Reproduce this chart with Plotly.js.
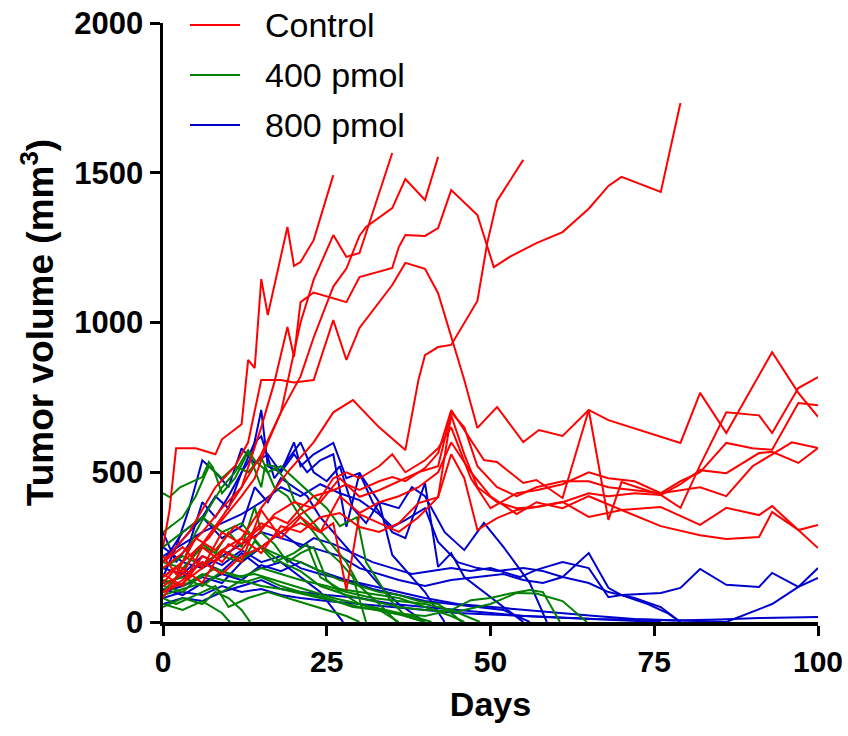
<!DOCTYPE html>
<html>
<head>
<meta charset="utf-8">
<script src="https://cdn.plot.ly/plotly-3.0.1.min.js"></script>
<style>html,body{margin:0;padding:0;background:#fff;}#chart{width:848px;height:736px;}</style>
</head>
<body>
<div id="chart"></div>
<script>
// ---------- DATA ----------
var groupNames = ['Control', '400 pmol', '800 pmol'];
var groupColors = ['#FF0000', '#008000', '#0000CC'];

var controlDays = [
  [0,1,2,5,8,9,12,13,14,15,16,19,20,21,23,26],
  [0,3,5,7,9,12,14,16,18,19,21,23,26,28,30,35],
  [0,3,6,9,12,15,18,21,23,26,28,30,31,35,37,40,42],
  [0,3,6,9,12,15,19,23,26,29,33,37,39,40,42,44,48,49.5,51,55],
  [0,3,6,9,12,15,17,19,20,21,23,26,28,30,35,36,37,40,42,44,48,50.5,53,57,61,65,68,70,73,76,79],
  [0,4,8,11,13,15,18,20,23,26,28,30,35,37,40,42,46,48,51,55,57.4,61,65,68,79,82,86,93,97,100],
  [0,2,5,8,11,14,17,20,23,26,28,30,33,35,37,40,42,44,47,50,54,57,61,65,68,72,76,79,82,86,90,93,96,100],
  [0,2,4,6,8,10,12,14,17,19,21,23,26,28,30,33,35,37,40,42,44,47,49,51,55,57,61,65,68,70,76,79,82,86,91,93,97,100],
  [0,3,6,9,12,15,18,21,24,27,30,33,36,39,42,44,46,48,51,54,57,61,65,68,72,76,79,82,86,90,93,97,100],
  [0,3,6,9,12,15,18,21,24,26,28,30,33,36,39,42,44,46,48,51,54,57,61,65,68,72,76,79,82,86,91,93,97,100],
  [0,3,6,9,12,15,18,21,24,27,30,33,36,39,42,44,46,48,51,54,57,61,65,70,76,82,86,91,93,97,100],
  [0,3,6,9,12,15,18,21,24,27,30,33,36,39,42,44,47,50,54,57,61,65,70,76,82,86,91,93,97,100]
];
var controlVolumes = [
  [250,374,580,580,560,610,660,875,848,1145,1025,1319,1189,1202,1275,1492],
  [120,160,240,280,340,420,480,600,700,800,1000,1142,1292,1219,1232,1566],
  [180,230,300,380,450,560,700,820,950,1120,1180,1290,1319,1382,1479,1409,1553],
  [100,130,180,240,280,380,500,600,700,741,650,574,808,891,918,925,1072,1265,1406,1543],
  [150,200,260,350,450,650,800,985,885,1068,1100,1080,1068,1152,1182,1252,1292,1289,1315,1442,1359,1185,1220,1265,1302,1380,1456,1486,1460,1436,1733],
  [200,300,450,520,600,808,808,800,808,1008,875,982,1125,1199,1179,1098,808,648,718,601,641,621,708,674,598,765,631,901,765,685],
  [220,160,280,240,320,280,360,400,380,480,500,480,520,560,500,540,580,650,480,380,430,440,460,500,480,470,430,440,450,420,520,560,600,581],
  [130,180,150,220,200,260,240,300,350,330,380,420,440,460,441,470,484,470,514,564,708,608,541,534,464,474,414,708,341,467,424,381,524,700,690,631,781,818],
  [200,250,180,300,260,330,300,360,400,480,418,440,470,500,520,700,650,520,450,420,450,470,470,450,440,430,470,500,598,580,575,731,724],
  [100,140,200,160,220,250,300,330,300,330,107,360,330,301,350,417,690,560,451,400,380,384,400,430,420,430,424,460,507,497,564,568,531,581],
  [160,120,250,200,280,230,320,300,350,364,317,301,330,397,417,560,480,307,347,374,384,401,351,374,384,324,381,357,387,307,324],
  [80,180,130,240,200,374,280,350,300,420,364,400,420,450,500,600,500,420,360,400,380,420,374,320,290,277,284,367,307,247]
];

var pmol400Days = [
  [0,1,2.6,6,7,7.6,9,11,13,15,15.6,17,19,20,23,25.5,28,30,33,35.7],
  [0,3,5,7,9,11,13,14,16,18,20,23,25,27,29.6,31,34.7,37,40],
  [0,2,4,6,8,10,12,14,15,17,19,21,23,25,27,30,33,36],
  [0,3,6,9,12,14,17,20,22,24,27,30,33,36,40,44,46],
  [0,3,5,8,11,14,17,20,23,26,30,34,38,41],
  [0,2,5,8,10,13,16,19,22,25,28,30],
  [0,3,6,8,10,12,13.3],
  [0,3,6,9,10.2],
  [0,3,6,9,12,15,18,21,25,29,33,37,40],
  [0,3,6,9,12,15,18,21,24,27,30,33,36,39,42,44,45.6],
  [0,3,6,9,12,15,18,21,25,28,32,36,40,44,48.4],
  [0,3,6,9,12,15,18,22,26,30,35,40,44,47,50,53,56,58,60.6],
  [0,3,6,9,12,15,18,21,24,28,32,36,40,45,50,54,57,61,64.7],
  [0,3,5,7,9,11,13,15,17,19,21,23,25,27,29,31]
];
var pmol400Volumes = [
  [430,417,450,484,534,517,430,480,568,450,524,520,467,407,330,264,200,120,60,0],
  [150,200,300,380,450,500,574,540,500,520,480,420,380,320,350,200,73,20,0],
  [100,150,200,260,230,300,250,384,300,260,200,230,250,140,100,60,40,0],
  [200,180,250,220,200,270,200,230,260,150,110,100,90,80,50,20,0],
  [120,100,140,180,150,160,140,120,100,80,60,40,20,0],
  [80,60,90,120,50,80,100,80,60,40,20,0],
  [50,80,60,100,80,40,0],
  [60,40,70,30,0],
  [140,120,160,140,130,150,120,100,80,50,40,20,0],
  [180,220,190,240,210,250,220,200,170,140,120,100,90,70,60,30,0],
  [130,150,120,170,150,180,160,140,120,100,80,70,60,40,0],
  [90,110,130,100,140,120,110,90,70,50,30,20,40,73,80,95,107,100,0],
  [250,300,350,300,330,250,200,170,120,90,70,50,40,35,60,97,95,70,0],
  [300,350,420,520,480,520,500,550,450,420,350,300,240,200,150,0]
];

var pmol800Days = [
  [0,2,4,6,8,10,12,13.5,15,16,18,20,22,24,26,28,30,33,35,38,40,43],
  [0,2,4,6,8,10,12,14,16,18,20,21,23,26,28,30,32,35,37,40,42,44,46,49,52,55],
  [0,2,4,6,8,10,12,14,15,17,19,21,23,25,27,29,31,33,36,38,40,43,46,49,52,56,58.6],
  [0,3,6,9,12,15,18,21,23,26,29,32,35,38,41,44,47,50,54.5,57,61,65,68,70,76,79,82,86,91,93,97,100],
  [0,3,6,9,12,15,18,21,24,27,30,33,36,40,44,48,52,55,58,61,65,68,70,74,77,79],
  [0,3,6,9,12,15,18,21,25,30,35,40,45,50,55,60,66,72,76],
  [0,3,6,9,12,15,18,21,24,28,32,36,40,45,50,55,60,66,72,80,86,93,97,100],
  [0,3,6,9,12,15,18,21,25,30,35,40,45,50,55,60,66,72,78,85,91,100],
  [0,3,6,9,12,15,18,21,24,27.5],
  [0,3,6,9,12,14,16,18,20,22,24,26,28,30,32,34,36,38,40],
  [0,3,6,9,12,15,18,21,24,27,30,33,35,37,40,42,45,48,51,55,58,61,65,68,72,76,79],
  [0,3,6,9,12,15,18,21,24,28,32,36,40,44,48,52,56]
];
var pmol800Volumes = [
  [200,250,300,350,420,380,500,550,708,520,500,560,500,540,560,318,497,400,224,150,100,0],
  [150,250,380,540,500,450,580,530,560,500,600,520,560,598,480,497,400,300,280,464,184,230,150,100,50,0],
  [300,200,260,400,350,420,500,600,620,480,540,600,500,470,520,380,330,400,380,450,420,300,240,331,250,130,0],
  [100,120,150,130,200,250,300,250,280,260,230,200,180,160,170,180,170,180,150,174,200,180,83,90,97,114,177,124,117,164,117,147],
  [250,200,180,220,260,300,280,260,240,220,180,160,140,120,140,150,160,140,130,150,230,114,90,60,30,0],
  [60,80,70,100,120,140,110,100,90,80,60,50,40,30,20,15,10,5,0],
  [180,160,220,190,240,200,220,180,160,140,120,100,80,60,50,40,30,20,10,5,0,60,117,180],
  [80,100,90,120,100,110,90,80,70,60,50,40,30,25,20,15,10,8,5,8,13,17],
  [130,150,200,170,230,180,200,150,100,0],
  [200,300,350,280,320,450,400,480,450,420,350,300,250,200,150,100,60,30,0],
  [220,260,300,330,360,400,450,420,460,430,407,360,317,340,380,267,200,180,170,180,170,150,130,100,80,50,0],
  [110,90,130,160,140,190,170,200,170,140,110,90,70,60,50,40,0]
];

var xTicks = [0, 25, 50, 75, 100];
var yTicks = [0, 500, 1000, 1500, 2000];

// ---------- BUILD ----------
var traces = [];
function addGroup(daysList, volList, gi) {
  for (var i = 0; i < daysList.length; i++) {
    traces.push({
      x: daysList[i], y: volList[i], type: 'scatter', mode: 'lines',
      name: groupNames[gi], legendgroup: groupNames[gi], showlegend: false,
      line: {color: groupColors[gi], width: 2}, hoverinfo: 'skip'
    });
  }
}
addGroup(pmol800Days, pmol800Volumes, 2);
addGroup(pmol400Days, pmol400Volumes, 1);
addGroup(controlDays, controlVolumes, 0);

var W = 848, H = 736, L = 163, R = 30, T = 23, B = 114;
var pw = W - L - R, ph = H - T - B;
function px(xp) { return (xp - L) / pw; }
function py(yp) { return (H - B - yp) / ph; }

var shapes = [], annotations = [];
var legendRowsY = [25, 75, 125];
for (var g = 0; g < 3; g++) {
  shapes.push({type: 'line', xref: 'paper', yref: 'paper',
    x0: px(190), x1: px(240), y0: py(legendRowsY[g]), y1: py(legendRowsY[g]),
    line: {color: groupColors[g], width: 2}});
  annotations.push({xref: 'paper', yref: 'paper', x: px(263), y: py(legendRowsY[g]),
    xanchor: 'left', yanchor: 'middle', showarrow: false, text: groupNames[g],
    font: {family: 'Liberation Sans, Arial, sans-serif', size: 34, color: '#000'}});
}

var layout = {
  width: W, height: H,
  margin: {l: L, r: R, t: T, b: B, pad: 0},
  paper_bgcolor: '#fff', plot_bgcolor: '#fff',
  showlegend: false,
  xaxis: {
    range: [0, 100], tickvals: xTicks, ticktext: xTicks.map(String),
    showgrid: false, zeroline: false, showline: true, linecolor: '#000', linewidth: 3.5,
    ticks: 'outside', ticklen: 10, tickwidth: 3, tickcolor: '#000',
    tickfont: {family: 'Liberation Sans, Arial, sans-serif', size: 30, color: '#000', weight: 'bold'},
    title: {text: '<b>Days</b>', standoff: 16,
      font: {family: 'Liberation Sans, Arial, sans-serif', size: 34, color: '#000'}}
  },
  yaxis: {
    range: [0, 2000], tickvals: yTicks, ticktext: yTicks.map(String),
    showgrid: false, zeroline: false, showline: true, linecolor: '#000', linewidth: 3.5,
    ticks: 'outside', ticklen: 10, tickwidth: 3, tickcolor: '#000',
    tickfont: {family: 'Liberation Sans, Arial, sans-serif', size: 31, color: '#000', weight: 'bold'},
    title: {text: '<b>Tumor volume (mm<sup>3</sup>)</b>', standoff: 10,
      font: {family: 'Liberation Sans, Arial, sans-serif', size: 37, color: '#000'}}
  },
  shapes: shapes,
  annotations: annotations
};

Plotly.newPlot('chart', traces, layout, {displayModeBar: false, staticPlot: true});
</script>
</body>
</html>
